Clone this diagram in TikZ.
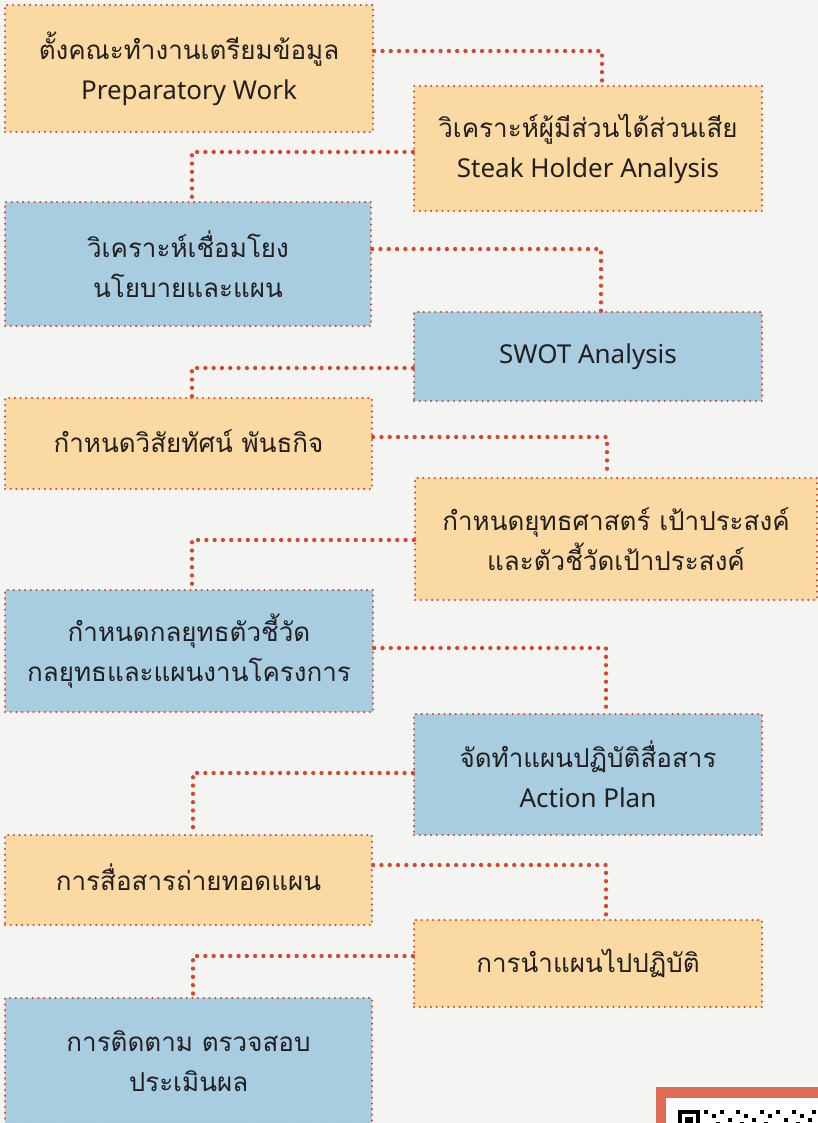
\documentclass[tikz,border=0pt]{standalone}
\usepackage{fontspec}
\setmainfont{Noto Sans}
\newfontfamily\thaifont[Script=Thai]{Loma}
\definecolor{paper}{HTML}{F4F5F2}
\definecolor{sand}{HTML}{FADAA2}
\definecolor{sky}{HTML}{A8CDE0}
\definecolor{brick}{HTML}{D6472F}
\definecolor{ink}{HTML}{231F20}
\definecolor{qrred}{HTML}{E06B55}

\begin{document}
\begin{tikzpicture}[x=1pt,y=-1pt,
	stepbox/.style={draw=brick,line width=2.3pt,dash pattern=on 0pt off 5.7pt,line cap=round,
		align=center,text=ink,inner sep=0pt,font=\fontsize{26}{40}\selectfont},
	warm/.style={stepbox,fill=sand},
	cool/.style={stepbox,fill=sky},
	link/.style={draw=brick,line width=4.3pt,dash pattern=on 0pt off 8.3pt,line cap=round}]
	\useasboundingbox (0,0) rectangle (818,1123);
	\fill[paper] (0,0) rectangle (818,1123);
	%left column and right column
	\node[warm,minimum width=368pt,minimum height=127pt] (b1) at (189,68.5)
		{{\thaifont ตั้งคณะทำงานเตรียมข้อมูล}\\Preparatory Work};
	\node[warm,minimum width=348pt,minimum height=125pt] (b2) at (588,148.5)
		{{\thaifont วิเคราะห์ผู้มีส่วนได้ส่วนเสีย}\\Steak Holder Analysis};
	\node[cool,minimum width=366pt,minimum height=124pt] (b3) at (188,264)
		{\thaifont วิเคราะห์เชื่อมโยง\\\thaifont นโยบายและแผน};
	\node[cool,minimum width=348pt,minimum height=89pt] (b4) at (588,356.5)
		{SWOT Analysis};
	\node[warm,minimum width=367pt,minimum height=91pt] (b5) at (188.5,443.5)
		{\raisebox{4pt}{\thaifont กำหนดวิสัยทัศน์ พันธกิจ}};
	\node[warm,minimum width=402pt,minimum height=122pt] (b6) at (616,539)
		{\thaifont กำหนดยุทธศาสตร์ เป้าประสงค์\\\thaifont และตัวชี้วัดเป้าประสงค์};
	\node[cool,minimum width=368pt,minimum height=122pt] (b7) at (189,651)
		{\thaifont กำหนดกลยุทธตัวชี้วัด\\\thaifont กลยุทธและแผนงานโครงการ};
	\node[cool,minimum width=348pt,minimum height=121pt] (b8) at (588,774.5)
		{{\thaifont จัดทำแผนปฏิบัติสื่อสาร}\\Action Plan};
	\node[warm,minimum width=367pt,minimum height=90pt] (b9) at (188.5,880)
		{\raisebox{5pt}{\thaifont การสื่อสารถ่ายทอดแผน}};
	\node[warm,minimum width=348pt,minimum height=87pt] (b10) at (588,963.5)
		{\thaifont การนำแผนไปปฏิบัติ};
	\node[cool,minimum width=367pt,minimum height=126pt] (b11) at (188.5,1061)
		{\thaifont การติดตาม ตรวจสอบ\\\thaifont ประเมินผล};
	%elbow points
	\coordinate (k1) at (602,51);
	\coordinate (k2) at (192,152);
	\coordinate (k3) at (601,249);
	\coordinate (k4) at (192,368);
	\coordinate (k5) at (607,437);
	\coordinate (k6) at (192,540);
	\coordinate (k7) at (606,648);
	\coordinate (k8) at (193,773);
	\coordinate (k9) at (606,865);
	\coordinate (k10) at (193,956);
	\draw[link] (b1.east |- k1) -| (b2.north -| k1);
	\draw[link] (b2.west |- k2) -| (b3.north -| k2);
	\draw[link] (b3.east |- k3) -| (b4.north -| k3);
	\draw[link] (b4.west |- k4) -| (b5.north -| k4);
	\draw[link] (b5.east |- k5) -| (b6.north -| k5);
	\draw[link] (b6.west |- k6) -| (b7.north -| k6);
	\draw[link] (b7.east |- k7) -| (b8.north -| k7);
	\draw[link] (b8.west |- k8) -| (b9.north -| k8);
	\draw[link] (b9.east |- k9) -| (b10.north -| k9);
	\draw[link] (b10.west |- k10) -| (b11.north -| k10);
	%qr corner
	\fill[qrred] (656,1087) rectangle (830,1130);
	\fill[white] (666,1098) rectangle (830,1130);
	\fill[black] (678,1110) rectangle (700,1130);
	\fill[white] (682,1114) rectangle (696,1130);
	\fill[black] (685,1117) rectangle (693,1130);
	\foreach \qx/\qy in {704/1110,712/1114,720/1110,728/1118,736/1110,744/1114,752/1118,760/1110,768/1114,776/1110,784/1118,792/1110,800/1114,808/1118,812/1110,716/1122,740/1122,764/1122,796/1122}
	\fill[black] (\qx,\qy) rectangle ++(4,4);
\end{tikzpicture}
\end{document}
